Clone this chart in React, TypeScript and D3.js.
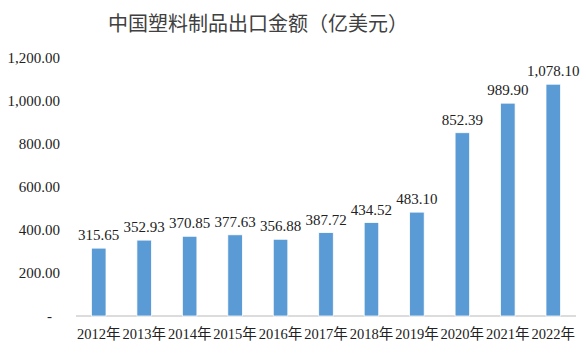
import * as d3 from "d3";

const years = ["2012年", "2013年", "2014年", "2015年", "2016年", "2017年", "2018年", "2019年", "2020年", "2021年", "2022年"];
const values = [315.65, 352.93, 370.85, 377.63, 356.88, 387.72, 434.52, 483.1, 852.39, 989.9, 1078.1];
const yTicks = [0, 200, 400, 600, 800, 1000, 1200];
const title = "中国塑料制品出口金额（亿美元）";

const W = 586;
const H = 353;
const margin = { top: 58, right: 10, bottom: 37, left: 76 };
const txt = { fontFamily: "'Liberation Serif', 'Noto Sans CJK SC'" };

export default function App() {
  const x = d3
    .scaleBand()
    .domain(years)
    .range([margin.left, W - margin.right])
    .paddingInner(0.68)
    .paddingOuter(0.34);

  const y = d3
    .scaleLinear()
    .domain([0, 1200])
    .range([H - margin.bottom, margin.top]);

  const fmt = d3.format(",.2f");
  const tickText = (v: number) => (v === 0 ? "-" : fmt(v));

  return (
    <svg
      width={W}
      height={H}
      style={{ position: "absolute", left: 0, top: 0, background: "#fff" }}
    >
      <text x={258} y={31} textAnchor="middle" fontSize={20} fill="#404040" style={txt}>
        {title}
      </text>

      {yTicks.map((t) => (
        <text
          key={t}
          x={t === 0 ? 52 : 60}
          y={y(t)}
          dy="0.35em"
          textAnchor="end"
          fontSize={15}
          fill="#222"
          style={txt}
        >
          {tickText(t)}
        </text>
      ))}

      <line
        x1={margin.left}
        x2={W - margin.right}
        y1={y(0)}
        y2={y(0)}
        stroke="#d0d0d0"
        strokeWidth={1.5}
      />

      {values.map((v, i) => {
        const bx = x(years[i])!;
        return (
          <g key={years[i]}>
            <rect
              x={bx}
              y={y(v)}
              width={x.bandwidth()}
              height={y(0) - y(v)}
              fill="#5B9BD5"
              stroke="#ffffff"
              strokeWidth={0.75}
            />
            <text
              x={bx + x.bandwidth() / 2}
              y={y(v) - 8}
              textAnchor="middle"
              fontSize={15}
              fill="#222"
              style={txt}
            >
              {fmt(v)}
            </text>
          </g>
        );
      })}

      {years.map((yr) => (
        <text
          key={yr}
          x={x(yr)! + x.bandwidth() / 2}
          y={339}
          textAnchor="middle"
          fontSize={14.5}
          fill="#222"
          style={txt}
        >
          {yr}
        </text>
      ))}
    </svg>
  );
}
